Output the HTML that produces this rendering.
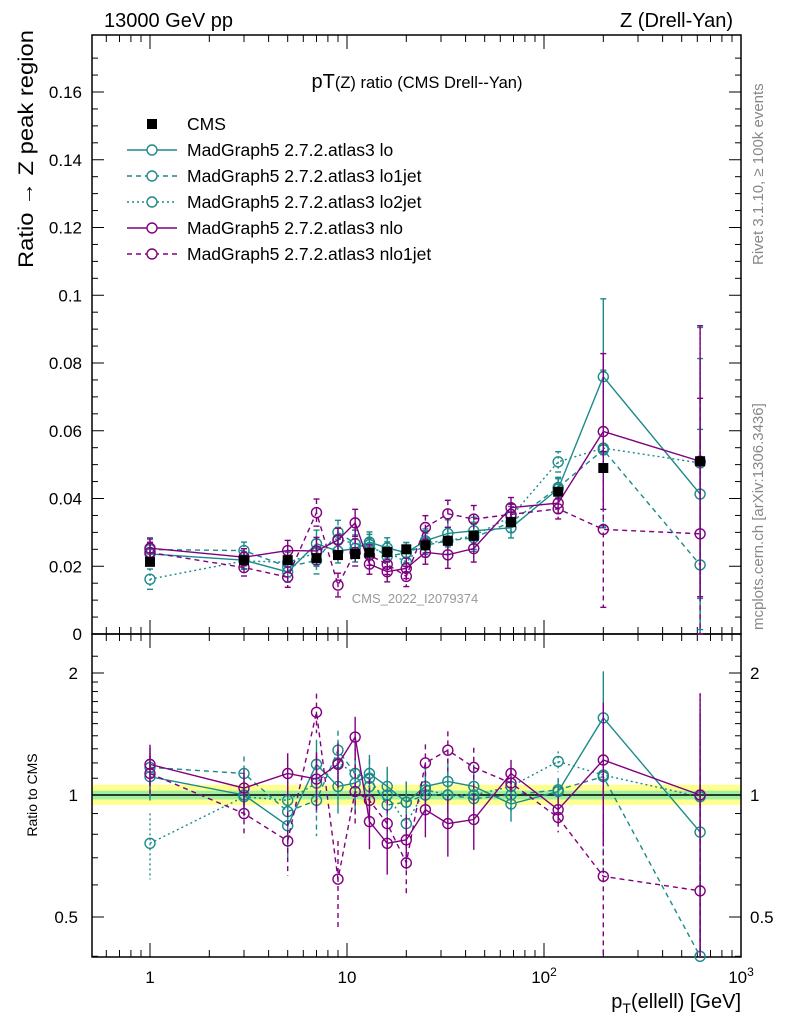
<!DOCTYPE html>
<html><head><meta charset="utf-8"><style>
html,body{margin:0;padding:0;background:#fff;}
svg{display:block;font-family:"Liberation Sans",sans-serif;}
</style></head><body>
<svg id="chart" width="786" height="1024" viewBox="0 0 786 1024" xmlns="http://www.w3.org/2000/svg">
<text x="104" y="27" font-size="20">13000 GeV pp</text>
<text x="733" y="27" font-size="20" text-anchor="end">Z (Drell-Yan)</text>
<text x="417" y="88" text-anchor="middle"><tspan font-size="20">pT</tspan><tspan font-size="16.5">(Z) ratio (CMS Drell--Yan)</tspan></text>
<text transform="translate(33,268) rotate(-90)" font-size="21" textLength="238" lengthAdjust="spacingAndGlyphs">Ratio → Z peak region</text>
<text transform="translate(37,795) rotate(-90)" font-size="14" text-anchor="middle">Ratio to CMS</text>
<text x="741" y="1008" font-size="20" text-anchor="end">p<tspan font-size="14" dy="5">T</tspan><tspan dy="-5">(ellell) [GeV]</tspan></text>
<text transform="translate(763,265) rotate(-90)" font-size="15" fill="#888">Rivet 3.1.10, ≥ 100k events</text>
<text transform="translate(763,630) rotate(-90)" font-size="15" fill="#888">mcplots.cern.ch [arXiv:1306.3436]</text>
<text x="415" y="603" font-size="13" fill="#999" text-anchor="middle">CMS_2022_I2079374</text>
<g id="plot"></g>
</svg>
<script>
const xs = [1,3,5,7,9,11,13,16,20,25,32.5,44,68,118,200,620];
const cms = [0.0213,0.0218,0.0218,0.0224,0.0233,0.0236,0.024,0.0242,0.025,0.0262,0.0275,0.029,0.033,0.042,0.049,0.051];
const rLo = [1.11,1.0,0.84,1.19,1.05,1.07,1.13,1.05,0.96,1.05,1.08,1.05,0.95,1.02,1.55,0.81];
const rLo1 = [1.17,1.13,0.91,0.97,1.29,1.13,1.1,0.945,0.96,1.0,1.0,0.98,1.0,1.03,1.11,0.40];
const rLo2 = [0.76,0.99,0.97,1.07,1.2,1.13,1.05,1.0,0.85,1.03,1.0,1.0,1.05,1.21,1.12,0.99];
const rNlo = [1.19,1.04,1.13,1.095,1.19,1.39,0.86,0.76,0.775,0.92,0.85,0.87,1.13,0.92,1.22,1.0];
const rNlo1 = [1.13,0.9,0.77,1.6,0.62,1.02,0.97,0.85,0.68,1.2,1.29,1.17,1.07,0.88,0.63,0.58];
const mcErr = [0.003,0.0025,0.003,0.004,0.0035,0.004,0.003,0.003,0.003,0.0035,0.004,0.004,0.003,0.003,0.023,0.04];
const yTicks = [0,0.02,0.04,0.06,0.08,0.1,0.12,0.14,0.16];
const yTickLabels = ["0","0.02","0.04","0.06","0.08","0.1","0.12","0.14","0.16"];
const rTicks = [0.5,1,2];
const rTickLabels = ["0.5","1","2"];
const xTicks = [1,10,100,1000];
const xTickLabels = ["1","10","10²","10³"];

const L=92,R=741,T=35,M=634,B=957;
const X=v=>150+197*Math.log10(v);
const Y=v=>634-v*3387.5;
const RY=v=>795-405.3*Math.log10(v);
const NS="http://www.w3.org/2000/svg";
const g=document.getElementById('plot');
function mk(t,a,p){const e=document.createElementNS(NS,t);for(const k in a)e.setAttribute(k,a[k]);(p||g).appendChild(e);return e;}

const band1=mk('rect',{x:L,y:RY(1.06),width:R-L,height:RY(0.945)-RY(1.06),fill:'#ffff90'});


const band2=mk('rect',{x:L,y:RY(1.025),width:R-L,height:RY(0.975)-RY(1.025),fill:'#a0f0a0'});


mk('line',{x1:L,x2:R,y1:RY(1),y2:RY(1),stroke:'#000','stroke-width':1.5});

const f1=mk('rect',{x:L,y:T,width:R-L,height:M-T,fill:'none',stroke:'#000','stroke-width':1.5});


const f2=mk('rect',{x:L,y:M,width:R-L,height:B-M,fill:'none',stroke:'#000','stroke-width':1.5});



for(let v=0;v<=0.175;v+=0.005){const y=Y(v);if(y<T)break;const maj=Math.abs(v/0.02-Math.round(v/0.02))<1e-6;const l=maj?12:6;
 mk('line',{x1:L,x2:L+l,y1:y,y2:y,stroke:'#000'});mk('line',{x1:R,x2:R-l,y1:y,y2:y,stroke:'#000'});}
yTicks.forEach((v,i)=>{const t=mk('text',{x:82,y:Y(v)+6,'font-size':17,'text-anchor':'end'});t.textContent=yTickLabels[i];

});
[0.4,0.5,0.6,0.7,0.8,0.9,1,1.1,1.2,1.3,1.4,1.5,1.6,1.7,1.8,1.9,2,2.2].forEach(v=>{const y=RY(v);if(y<M||y>B)return;const maj=rTicks.includes(v);const l=maj?12:6;
 mk('line',{x1:L,x2:L+l,y1:y,y2:y,stroke:'#000'});mk('line',{x1:R,x2:R-l,y1:y,y2:y,stroke:'#000'});});
rTicks.forEach((v,i)=>{const t=mk('text',{x:78,y:RY(v)+6,'font-size':17,'text-anchor':'end'});t.textContent=rTickLabels[i];


const t2=mk('text',{x:750,y:RY(v)+6,'font-size':17});t2.textContent=rTickLabels[i];

});
for(let d=0.1;d<=1000;d*=10){for(let k=1;k<10;k++){const v=d*k;const x=X(v);if(x<L||x>R+0.5)continue;const l=k==1?14:7;
 [[T,T+l],[M,M-l],[M,M+l],[B,B-l]].forEach(p=>mk('line',{x1:x,x2:x,y1:p[0],y2:p[1],stroke:'#000'}));}}
xTicks.forEach((v,i)=>{const t=mk('text',{x:X(v),y:983,'font-size':17,'text-anchor':'middle'});
 if(i<2)t.textContent=xTickLabels[i];else{t.textContent='10';const s=mk('tspan',{dy:-7,'font-size':12},t);s.textContent=String(i);}

});

const TEAL='#1c8a8a',PUR='#800080';
const series=[
 {n:'lo',r:rLo,c:TEAL,d:''},{n:'lo1jet',r:rLo1,c:TEAL,d:'5,4'},{n:'lo2jet',r:rLo2,c:TEAL,d:'2,3'},
 {n:'nlo',r:rNlo,c:PUR,d:''},{n:'nlo1jet',r:rNlo1,c:PUR,d:'5,4'}];
function clipR(y){return Math.max(M,Math.min(B,y));}
series.forEach(s=>{
 const vals=s.r.map((r,i)=>r*cms[i]);
 const grp=mk('g',{});
 
 
 mk('polyline',{points:xs.map((x,i)=>X(x)+','+Y(vals[i])).join(' '),fill:'none',stroke:s.c,'stroke-width':1.4,'stroke-dasharray':s.d},grp);
 mk('polyline',{points:xs.map((x,i)=>X(x)+','+clipR(RY(s.r[i]))).join(' '),fill:'none',stroke:s.c,'stroke-width':1.4,'stroke-dasharray':s.d},grp);
 xs.forEach((x,i)=>{const px=X(x),e=mcErr[i],v=vals[i];
  const y1=Y(v+e),y2=Y(Math.max(0,v-e));
  mk('line',{x1:px,x2:px,y1:y1,y2:y2,stroke:s.c,'stroke-width':1.4,'stroke-dasharray':s.d},grp);
  mk('line',{x1:px-3,x2:px+3,y1:y1,y2:y1,stroke:s.c,'stroke-width':1.4},grp);
  mk('line',{x1:px-3,x2:px+3,y1:y2,y2:y2,stroke:s.c,'stroke-width':1.4},grp);
  const ry1=clipR(RY((v+e)/cms[i])),ry2=clipR(RY(Math.max(0.01,v-e)/cms[i]));
  mk('line',{x1:px,x2:px,y1:ry1,y2:ry2,stroke:s.c,'stroke-width':1.4,'stroke-dasharray':s.d},grp);
  const c=mk('circle',{cx:px,cy:Y(v),r:5,fill:'none',stroke:s.c,'stroke-width':1.4},grp);
  
  
  const ry=RY(s.r[i]);if(ry>M&&ry<B){const c2=mk('circle',{cx:px,cy:ry,r:5,fill:'none',stroke:s.c,'stroke-width':1.4},grp);
  
  }
 });
});
xs.forEach((x,i)=>{const r=mk('rect',{x:X(x)-5,y:Y(cms[i])-5,width:10,height:10,fill:'#000'});

});

const labels=['CMS','MadGraph5 2.7.2.atlas3 lo','MadGraph5 2.7.2.atlas3 lo1jet','MadGraph5 2.7.2.atlas3 lo2jet','MadGraph5 2.7.2.atlas3 nlo','MadGraph5 2.7.2.atlas3 nlo1jet'];
labels.forEach((lab,i)=>{const y=124+26*i;const lg=mk('g',{});
 
 
 if(i==0)mk('rect',{x:147,y:y-5,width:10,height:10,fill:'#000'},lg);
 else{const s=series[i-1];mk('line',{x1:127,x2:177,y1:y,y2:y,stroke:s.c,'stroke-width':1.4,'stroke-dasharray':s.d},lg);
  mk('circle',{cx:152,cy:y,r:5,fill:'#fff',stroke:s.c,'stroke-width':1.4},lg);}
 const t=mk('text',{x:187,y:y+6,'font-size':17.5},lg);t.textContent=lab;});
</script>
</body></html>
